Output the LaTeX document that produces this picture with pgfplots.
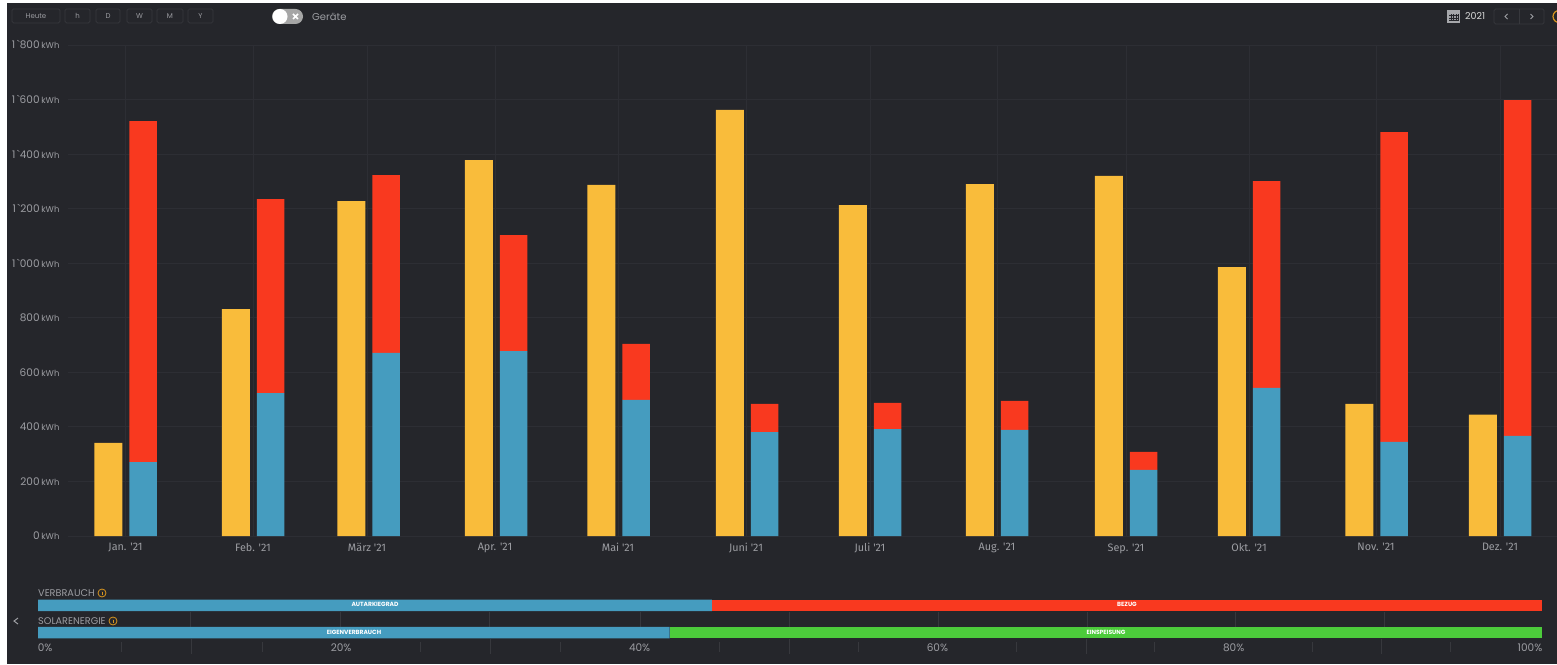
\documentclass[border=0pt]{standalone}
\usepackage{pgfplots}
\usepackage{fontspec}
\pgfplotsset{compat=1.18}
\newfontfamily\pop{Poppins}
\newfontfamily\fira{Fira Sans}
\newcommand{\fs}[1]{\fontsize{#1}{#1}\selectfont}
\definecolor{bg}{HTML}{25262B}
\definecolor{gridc}{HTML}{2D2E34}
\definecolor{txt}{HTML}{9C9DA2}
\definecolor{yel}{HTML}{F9BC3B}
\definecolor{blu}{HTML}{459CBF}
\definecolor{redb}{HTML}{F9391F}
\definecolor{grn}{HTML}{4CCB3B}
\definecolor{btn}{HTML}{37383D}
\definecolor{org}{HTML}{D9961F}
\pgfplotstableread{
x yellow blue red
125.5 341 271 1250
253 832 524 711
368.5 1228 671 652
496 1378 678 425
618.5 1287 499 205
747 1562 381 103
870 1213 392 96
997 1290 389 106
1126 1320 242 66
1249 986 543 758
1376.5 484 345 1136
1500 445 367 1231
}\months
\newcommand{\ylab}[1]{{\pop\fs{10.5}#1\,{\fs{8.5}kWh}}}
\begin{document}
\begin{tikzpicture}[x=1pt,y=1pt]
\useasboundingbox (0,0) rectangle (1557,664);
\fill[white] (0,0) rectangle (1557,664);
\fill[bg] (7,0) rectangle (1557,661);
% main axis with grid and yellow bars
\begin{axis}[
  at={(68pt,128pt)},anchor=south west,scale only axis,
  width=1489pt,height=491pt,
  xmin=68,xmax=1557,ymin=0,ymax=1800,
  axis line style={draw=none},
  tick style={draw=none},
  grid=major,grid style={gridc,line width=0.8pt},
  xtick={125.5,253,367,495,618,746,870,997,1126,1249,1376,1500},
  xticklabels={Jan. '21,Feb. '21,März '21,Apr. '21,Mai '21,Juni '21,Juli '21,Aug. '21,Sep. '21,Okt. '21,Nov. '21,Dez. '21},
  x tick label style={font=\fira\fs{10.8},text=txt,yshift=-4pt},
  ytick={0,200,...,1800},
  yticklabels={\ylab{0},\ylab{200},\ylab{400},\ylab{600},\ylab{800},\ylab{1\,\char96 000},\ylab{1\,\char96 200},\ylab{1\,\char96 400},\ylab{1\,\char96 600},\ylab{1\,\char96 800}},
  y tick label style={text=txt,anchor=east,xshift=-5pt},
]
\addplot[ybar,bar width=28pt,bar shift=-17.25pt,fill=yel,draw=none] table[x=x,y=yellow] {\months};
\end{axis}
% stacked blue + red
\begin{axis}[
  at={(68pt,128pt)},anchor=south west,scale only axis,
  width=1489pt,height=491pt,
  xmin=68,xmax=1557,ymin=0,ymax=1800,
  hide axis,ybar stacked,bar width=27.5pt,
]
\addplot[ybar stacked,bar width=27.5pt,bar shift=17.5pt,fill=blu,draw=none] table[x=x,y=blue] {\months};
\addplot[ybar stacked,bar width=27.5pt,bar shift=17.5pt,fill=redb,draw=none] table[x=x,y=red] {\months};
\end{axis}
% decoration lines of lower strip
\foreach \p in {190,340,489,640,789,938,1087,1235,1384}
  \draw[btn,line width=0.8pt] (\p,37) -- (\p,52);
\foreach \p in {121,262,420,560,719,858,1016,1154,1312,1450}
  \draw[btn,line width=0.8pt] (\p,12) -- (\p,22);
\foreach \p in {191,490,789,1086,1381}
  \draw[btn,line width=0.8pt] (\p,10) -- (\p,25);
% strip
\begin{axis}[
  at={(38pt,20pt)},anchor=south west,scale only axis,
  width=1504pt,height=50pt,
  xmin=0,xmax=100,ymin=-0.41,ymax=1.41,
  axis line style={draw=none},tick style={draw=none},
  xbar stacked,bar width=11.5pt,
  ytick=\empty,
  xtick={0.47,20.15,40,59.8,79.5,99.2},
  xticklabels={0\%,20\%,40\%,60\%,80\%,100\%},
  x tick label style={font=\pop\fs{10.5},text=txt,yshift=4pt},
  clip=false,
]
\addplot[fill=blu,draw=none] coordinates {(42.0,0) (44.8,1)};
\addplot[fill=redb,draw=none] coordinates {(0,0) (55.2,1)};
\addplot[fill=grn,draw=none] coordinates {(58.0,0) (0,1)};
\end{axis}
\node[font=\pop\bfseries\fs{6},text=white] at (375,59.5) {AUTARKIEGRAD};
\node[font=\pop\bfseries\fs{6},text=white] at (1127,59.5) {BEZUG};
\node[font=\pop\bfseries\fs{6},text=white] at (354,32) {EIGENVERBRAUCH};
\node[font=\pop\bfseries\fs{6},text=white] at (1106,32) {EINSPEISUNG};
% strip headings
\node[anchor=west,inner sep=0,font=\pop\fs{9.7},text=txt] at (38,71) {VERBRAUCH};
\node[anchor=west,inner sep=0,font=\pop\fs{9.7},text=txt] at (38,43) {SOLARENERGIE};
\foreach \p/\q in {102/71,113/43}{
  \draw[org,line width=0.8pt] (\p,\q) circle (4);
  \draw[org,line width=0.8pt] (\p,\q-2) -- (\p,\q+1);
  \fill[org] (\p,\q+2) circle (0.4);
}
\draw[txt,line width=1pt] (18,46) -- (14,43) -- (18,40);
% top controls
\foreach \a/\b/\t in {12/60/Heute,65/90/h,96/120/D,127/152/W,157/183/M,188/213/Y}{
  \draw[btn,line width=0.7pt,rounded corners=1.5] (\a,641) rectangle (\b,655);
  \node[font=\pop\fs{7},text=txt] at ({(\a+\b)/2},648) {\t};
}
\fill[gray!70!white,rounded corners=7.5] (272,640) rectangle (303,655);
\fill[white] (280,647.5) circle (7.5);
\draw[white,line width=1.5pt] (293,645) -- (298,650) (293,650) -- (298,645);
\node[anchor=west,inner sep=0,font=\pop\fs{10},text=txt] at (312,647.5) {Geräte};
\fill[txt!90!white] (1447,641) rectangle (1460,654);
\fill[bg] (1448.5,642.5) rectangle (1458.5,650);
\foreach \i in {1449,1451.5,1454,1456.5} \foreach \j in {643.5,646,648.5} \fill[txt] (\i,\j) rectangle +(1.5,1.5);
\node[anchor=west,inner sep=0,font=\pop\fs{9.5},text=white!85!black] at (1465,647.5) {2021};
\draw[btn,line width=0.7pt,rounded corners=1.5] (1494,640) rectangle (1544,655);
\draw[btn,line width=0.7pt] (1519,640) -- (1519,655);
\draw[txt,line width=0.8pt] (1507.5,650) -- (1505,647.5) -- (1507.5,645);
\draw[txt,line width=0.8pt] (1530.5,650) -- (1533,647.5) -- (1530.5,645);
\begin{scope}
\clip (1540,630) rectangle (1557,664);
\draw[org,line width=1.2pt] (1559,647.5) circle (6);
\end{scope}
\end{tikzpicture}
\end{document}
